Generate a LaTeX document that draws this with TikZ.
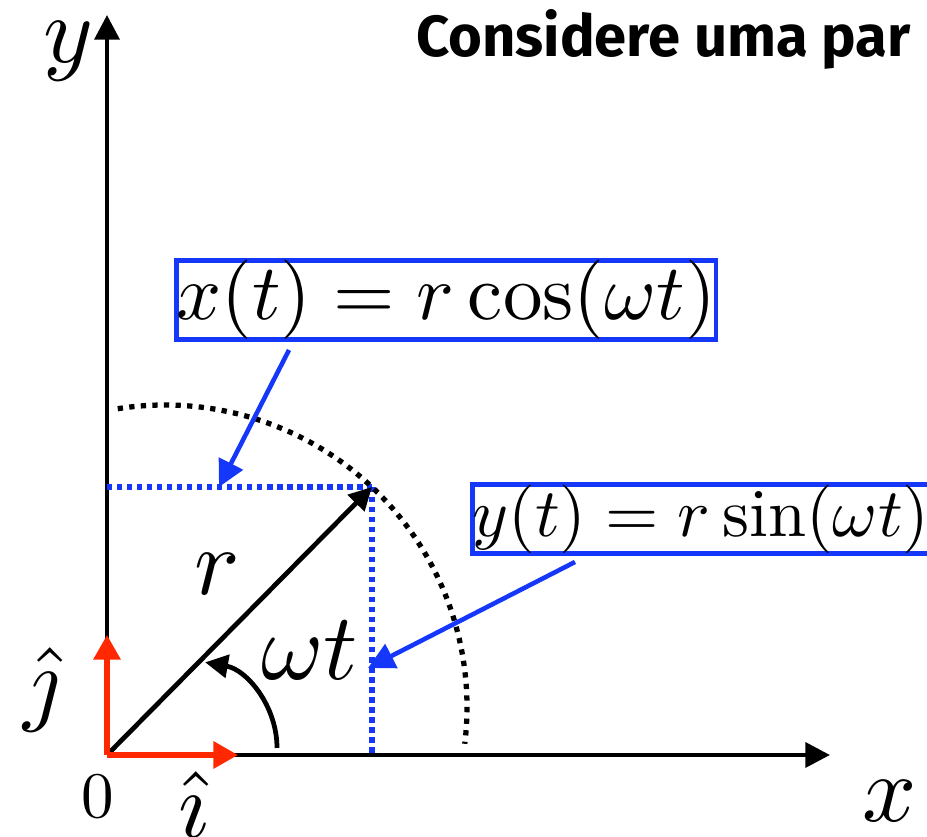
\documentclass[tikz,border=0pt]{standalone}
\usepackage{fontspec}
\usepackage{xcolor}
\usepackage{tikz}
\usetikzlibrary{arrows.meta, positioning, calc}
\newfontfamily\titlefont{Fira Sans}
\definecolor{eqblue}{RGB}{20,55,250}
\definecolor{vecred}{RGB}{255,40,0}

\begin{document}
\begin{tikzpicture}[
    x=0.02cm, y=0.02cm,
    axis/.style={line width=2.6pt, -{Triangle[length=14pt, width=14pt]}},
    unitvec/.style={vecred, line width=3pt, -{Triangle[length=14pt, width=15pt]}},
    radvec/.style={line width=2.7pt, -{Triangle[length=13pt, width=13pt]}},
    angarrow/.style={line width=2.7pt, -{Triangle[length=13pt, width=13pt]}},
    pointer/.style={eqblue, line width=2.6pt, -{Triangle[length=15pt, width=15pt]}},
    projline/.style={eqblue, line width=3pt, dash pattern=on 3pt off 2.7pt},
    orbit/.style={line width=3pt, dash pattern=on 3pt off 3.6pt},
    eqbox/.style={draw=eqblue, line width=2.6pt, inner sep=0pt},
    lbl/.style={scale=5.4, inner sep=0pt}
]
\useasboundingbox (0,0) rectangle (927,837);

% Points
\coordinate (o) at (107,82);
\coordinate (p) at (372,350);
\coordinate (xtip) at (830,82);
\coordinate (ytip) at (107,822);
\coordinate (px) at (372,82);
\coordinate (py) at (107,350);
\coordinate (itip) at (238,82);
\coordinate (jtip) at (107,202);
\coordinate (c) at (165,130);
\coordinate (wc) at (190,89);

% Axes
\draw[axis] (o) -- (xtip);
\draw[axis] (o) -- (ytip);

% Projections and orbit
\draw[projline] (py) -- (p);
\draw[projline] (p) -- (px);
\draw[orbit] ($(c)+(99:302)$) arc[start angle=99, end angle=-7, radius=302];

% Position vector and angle
\draw[radvec] (o) -- (p);
\draw[angarrow] ($(wc)+(0:87)$) arc[start angle=0, end angle=80, radius=87];

% Unit vectors
\draw[unitvec] (o) -- (itip);
\draw[unitvec] (o) -- (jtip);

% Equations
\node[eqbox, scale=4.5] (xeq) at (446,537) {$x(t) = r\cos(\omega t)$};
\node[eqbox, scale=3.9] (yeq) at (701,318) {$y(t) = r\sin(\omega t)$};

\coordinate (xfrom) at (289,487);
\coordinate (xptr) at (219,350);
\coordinate (yfrom) at (575,275);
\coordinate (yptr) at (368,169);
\draw[pointer] (xfrom) -- (xptr);
\draw[pointer] (yfrom) -- (yptr);

% Labels
\node[lbl] (ylbl) at (68,786) {$y$};
\node[lbl] (xlbl) at (890,36) {$x$};
\node[lbl] (rlbl) at (217,263) {$r$};
\node[lbl] (wtlbl) at (310,187) {$\omega t$};
\node[lbl] (ilbl) at (194,32) {$\hat{\imath}$};
\node[lbl] (jlbl) at (42,147) {$\hat{\jmath}$};
\node[scale=3.7, inner sep=0pt] (zero) at (98,40) {$0$};

\node[anchor=base west, font=\titlefont\fontsize{33}{38}\bfseries] (title) at (410,780) {Considere uma par};

\end{tikzpicture}
\end{document}
